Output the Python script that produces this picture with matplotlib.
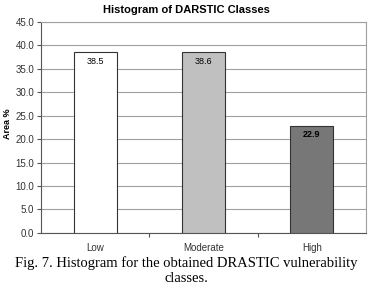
import matplotlib
matplotlib.use("Agg")
import matplotlib.pyplot as plt

categories = ["Low", "Moderate", "High"]
values = [38.5, 38.6, 22.9]
labels = ["38.5", "38.6", "22.9"]
colors = ["#ffffff", "#c0c0c0", "#777777"]
weights = ["normal", "normal", "bold"]
yticks = [0, 5, 10, 15, 20, 25, 30, 35, 40, 45]

fig = plt.figure(figsize=(3.73, 2.90), dpi=100)
ax = fig.add_axes([0.110, 0.197, 0.871, 0.727])
x = list(range(len(categories)))
ax.bar(x, values, width=0.4, color=colors, edgecolor="#333333", linewidth=0.8, zorder=3)
for xi, v, lab, w in zip(x, values, labels, weights):
    ax.text(xi, v - 1.0, lab, ha="center", va="top", fontsize=6.5,
            fontweight=w, family="Liberation Sans", zorder=4)

ax.set_xlim(-0.5, 2.5)
ax.set_ylim(0, 45)
ax.set_yticks(yticks)
ax.set_yticklabels([f"{t:.1f}" for t in yticks], fontsize=7, family="Liberation Sans", color="#333333")
ax.set_xticks([0.5, 1.5])
ax.set_xticklabels([])
ax.set_xticks(x, minor=True)
ax.set_xticklabels(categories, minor=True, fontsize=7, family="Liberation Sans", color="#333333")
ax.tick_params(axis="x", which="minor", length=0, pad=7)
ax.tick_params(axis="x", which="major", length=3, direction="out", color="#555555")
ax.tick_params(axis="y", length=3, direction="out", color="#555555", pad=2)
ax.yaxis.grid(True, color="#a0a0a0", linewidth=0.8, zorder=0)
ax.set_axisbelow(True)
for s in ["top", "right"]:
    ax.spines[s].set_color("#a0a0a0")
    ax.spines[s].set_linewidth(0.8)
for s in ["left", "bottom"]:
    ax.spines[s].set_color("#555555")
    ax.spines[s].set_linewidth(0.8)
ax.set_ylabel("Area %", fontsize=6.5, fontweight="bold", family="Liberation Sans")
ax.yaxis.set_label_coords(-0.088, 0.52)
fig.text(0.5, 0.966, "Histogram of DARSTIC Classes", ha="center", va="center",
         fontsize=8, fontweight="bold", family="Liberation Sans")
fig.text(0.5, 0.093, "Fig. 7. Histogram for the obtained DRASTIC vulnerability", ha="center",
         va="center", fontsize=10.5, family="Liberation Serif")
fig.text(0.5, 0.040, "classes.", ha="center", va="center", fontsize=10.5, family="Liberation Serif")
fig.savefig("out.png", dpi=100)
